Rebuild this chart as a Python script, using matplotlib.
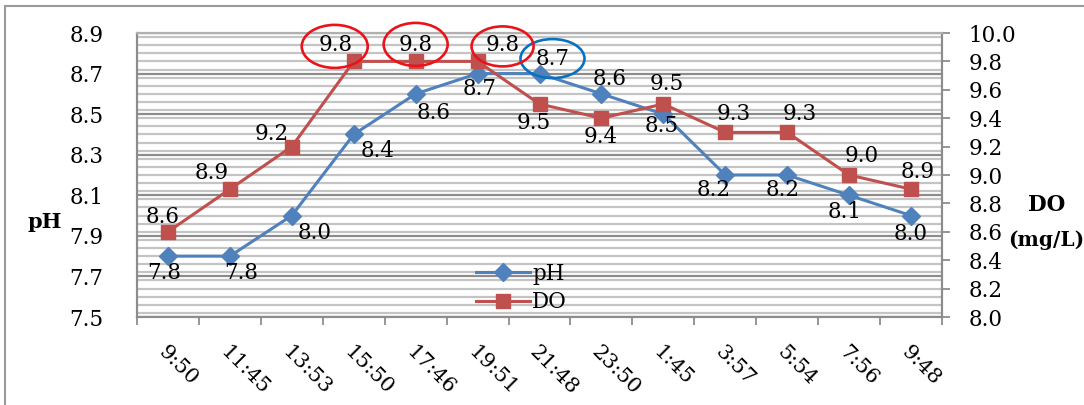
import matplotlib
matplotlib.use("Agg")
import matplotlib.pyplot as plt
import matplotlib.transforms as mtransforms
from matplotlib.patches import Ellipse, Rectangle
from matplotlib.ticker import MultipleLocator, FixedLocator
from matplotlib.lines import Line2D

times = ["9:50", "11:45", "13:53", "15:50", "17:46", "19:51", "21:48",
         "23:50", "1:45", "3:57", "5:54", "7:56", "9:48"]
ph = [7.8, 7.8, 8.0, 8.4, 8.6, 8.7, 8.7, 8.6, 8.5, 8.2, 8.2, 8.1, 8.0]
do = [8.6, 8.9, 9.2, 9.8, 9.8, 9.8, 9.5, 9.4, 9.5, 9.3, 9.3, 9.0, 8.9]

# label offsets in pixels (dx right, dy down) from each point
ph_off = [(-4, 17), (11, 17), (23, 17), (24, 17), (18, 19), (2, 15), (13, -15),
          (8, -15), (-2, 12), (-12, 15), (-5, 15), (-4, 17), (0, 18)]
do_off = [(-5, -15), (-18, -16), (-20, -13), (-18, -16), (0, -16), (25, -16), (-6, 19),
          (-1, 19), (3, -20), (8, -18), (13, -18), (13, -19), (7, -17)]

BLUE = "#4F81BD"
RED = "#C0504D"
plt.rcParams["font.family"] = "DejaVu Serif"
FS = 15.5

fig = plt.figure(figsize=(10.84, 4.05), dpi=100)
ax = fig.add_axes([137 / 1084, 1 - 317 / 405, 805 / 1084, 284 / 405])
ax2 = ax.twinx()

x = list(range(len(times)))
ax.plot(x, ph, color=BLUE, lw=2.2, marker="D", ms=9.5, zorder=3)
ax2.plot(x, do, color=RED, lw=2.2, marker="s", ms=10, zorder=3)

ax.set_xlim(-0.5, len(times) - 0.5)
ax.set_ylim(7.5, 8.9)
ax2.set_ylim(8.0, 10.0)

ax.yaxis.set_minor_locator(MultipleLocator(0.04))
ax.set_yticks([7.5 + 0.2 * i for i in range(8)])
ax.set_yticklabels(["%.1f" % (7.5 + 0.2 * i) for i in range(8)], fontsize=FS)
ax.tick_params(axis="y", which="both", length=0, pad=24)
ax.grid(axis="y", which="minor", color="#c4c4c4", lw=1.6)
ax.grid(axis="y", which="major", color="#8c8c8c", lw=1.6)
ax.set_axisbelow(True)

ax2.set_yticks([8.0 + 0.2 * i for i in range(11)])
ax2.set_yticklabels(["%.1f" % (8.0 + 0.2 * i) for i in range(11)], fontsize=FS)
ax2.tick_params(axis="y", length=6, width=1.3, color="#8c8c8c", pad=13)

ax.set_xticks(x)
ax.set_xticklabels(times, fontsize=15, rotation=-45, ha="left",
                   rotation_mode="anchor")
ax.xaxis.set_minor_locator(FixedLocator([i - 0.5 for i in range(len(times) + 1)]))
ax.tick_params(axis="x", which="major", length=0, pad=18)
ax.tick_params(axis="x", which="minor", length=6, width=1.3, color="#8c8c8c")

for a in (ax, ax2):
    for s in a.spines.values():
        s.set_color("#8c8c8c")
        s.set_linewidth(1.5)
ax2.spines["top"].set_color("#b0b0b0")

for i, v in enumerate(ph):
    dx, dy = ph_off[i]
    ax.annotate("%.1f" % v, (i, v), xytext=(dx, -dy), textcoords="offset pixels",
                ha="center", va="center", fontsize=FS, zorder=5)
for i, v in enumerate(do):
    dx, dy = do_off[i]
    ax2.annotate("%.1f" % v, (i, v), xytext=(dx, -dy), textcoords="offset pixels",
                 ha="center", va="center", fontsize=FS, zorder=5)

# highlight rings around the peak values, sized in pixels
def ring(a, i, v, dx, dy, w, h, color):
    tr = mtransforms.IdentityTransform() + mtransforms.ScaledTranslation(i, v, a.transData)
    a.add_patch(Ellipse((dx, -dy), w, h, transform=tr, fill=False,
                        ec=color, lw=1.9, zorder=6, clip_on=False))

ring(ax2, 3, do[3], -19, -15, 66, 43, "#E8141B")
ring(ax2, 4, do[4], 0, -17, 64, 43, "#E8141B")
ring(ax2, 5, do[5], 25, -15, 62, 40, "#E8141B")
ring(ax, 6, ph[6], 13, -15, 64, 39, "#0A70C0")

handles = [Line2D([], [], color=BLUE, lw=2.2, marker="D", ms=9.5),
           Line2D([], [], color=RED, lw=2.2, marker="s", ms=10)]
ax2.legend(handles, ["pH", "DO"], loc="upper left", frameon=False, fontsize=FS,
           bbox_to_anchor=(463 / 1084, 1 - 250 / 405), bbox_transform=fig.transFigure,
           handlelength=2.5, handletextpad=0.1, labelspacing=0.3, borderpad=0.1)

fig.text(45 / 1084, 1 - 222 / 405, "pH", fontsize=15, fontweight="bold",
         ha="center", va="center")
fig.text(1047 / 1084, 1 - 205 / 405, "DO", fontsize=15.5, fontweight="bold",
         ha="center", va="center")
fig.text(1046 / 1084, 1 - 240 / 405, "(mg/L)", fontsize=14.5, fontweight="bold",
         ha="center", va="center")

fig.patches.append(Rectangle((5 / 1084, -0.2), 1.2, 1 - 6 / 405 + 0.2, transform=fig.transFigure,
                             fill=False, ec="#9a9a9a", lw=1.5))

fig.savefig("out.png", dpi=100)
